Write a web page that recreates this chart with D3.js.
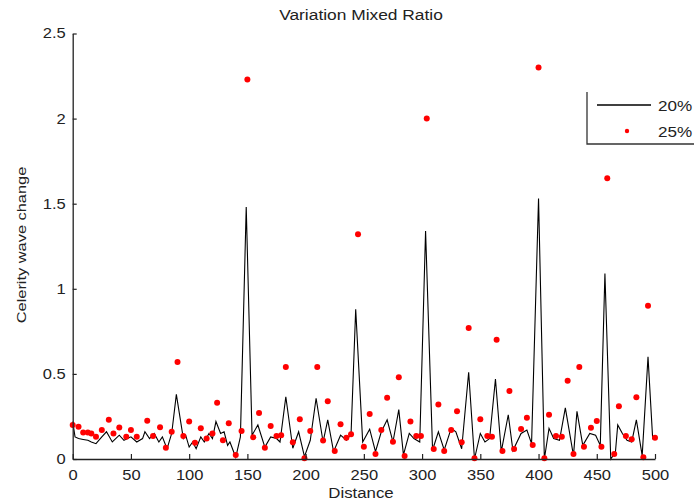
<!DOCTYPE html>
<html>
<head>
<meta charset="utf-8">
<script src="https://cdn.jsdelivr.net/npm/d3@7"></script>
<style>
  html, body { margin: 0; padding: 0; background: #fff; }
  svg { display: block; }
  text { font-family: Arial, "Liberation Sans", sans-serif; fill: #222; }
</style>
</head>
<body>
<svg id="chart" width="694" height="503"></svg>
<script>
// 20% mix: distance / celerity change (solid line)
const lineX = [0, 2, 5, 9, 13, 16, 20, 25, 29, 34, 40, 44, 50, 55, 60, 62, 66, 70, 74, 77,
  81, 85, 89, 95, 97, 100, 103, 106, 110, 113, 117, 120, 123, 127, 130, 133, 135, 140, 144, 149,
  154, 159, 165, 170, 175, 178, 183, 189, 194, 199, 204, 209, 215, 219, 224, 230, 235, 239, 243, 249,
  255, 260, 265, 270, 275, 280, 284, 289, 293, 298, 303, 309, 314, 319, 325, 329, 334, 340, 345, 350,
  354, 358, 363, 368, 374, 378, 385, 390, 394, 400, 405, 409, 413, 418, 423, 430, 433, 438, 444, 449,
  453, 457, 462, 466, 468, 472, 476, 480, 484, 489, 494, 498, 500];
const lineY = [0.22, 0.13, 0.12, 0.115, 0.11, 0.10, 0.09, 0.13, 0.16, 0.10, 0.14, 0.11, 0.13, 0.10, 0.12, 0.16, 0.12, 0.15, 0.10, 0.13,
  0.06, 0.15, 0.38, 0.12, 0.14, 0.07, 0.10, 0.06, 0.13, 0.10, 0.15, 0.12, 0.22, 0.15, 0.16, 0.08, 0.10, 0.01, 0.13, 1.48,
  0.14, 0.20, 0.07, 0.13, 0.12, 0.10, 0.366, 0.063, 0.16, 0.014, 0.11, 0.357, 0.10, 0.23, 0.043, 0.14, 0.11, 0.145, 0.88, 0.10,
  0.175, 0.043, 0.16, 0.23, 0.10, 0.29, 0.024, 0.15, 0.12, 0.10, 1.34, 0.053, 0.16, 0.053, 0.18, 0.16, 0.06, 0.51, 0.00, 0.15,
  0.10, 0.12, 0.47, 0.043, 0.26, 0.05, 0.15, 0.17, 0.09, 1.53, 0.00, 0.18, 0.12, 0.11, 0.30, 0.02, 0.28, 0.08, 0.15, 0.14,
  0.08, 1.09, 0.00, 0.04, 0.20, 0.15, 0.11, 0.10, 0.23, 0.02, 0.60, 0.12, 0.12];

// 25% mix: distance / celerity change (dot markers)
const dotX = [0, 5, 9, 13, 16, 20, 25, 31, 35, 40, 46, 50, 55, 64, 69, 75, 80, 85, 90, 95,
  100, 105, 110, 115, 120, 124, 129, 134, 140, 145, 150, 155, 160, 165, 170, 175, 179, 183, 189, 195,
  199, 204, 210, 215, 219, 225, 230, 235, 239, 245, 250, 255, 260, 265, 270, 275, 280, 285, 290, 295,
  299, 304, 310, 314, 319, 325, 330, 334, 340, 345, 350, 356, 360, 364, 369, 375, 379, 385, 390, 395,
  400, 405, 409, 415, 420, 425, 430, 435, 439, 445, 450, 454, 459, 465, 469, 475, 480, 484, 490, 494, 500];
const dotY = [0.20, 0.19, 0.155, 0.155, 0.15, 0.13, 0.17, 0.23, 0.15, 0.185, 0.13, 0.17, 0.13, 0.225, 0.135, 0.186, 0.066, 0.16, 0.57, 0.135,
  0.22, 0.096, 0.18, 0.12, 0.15, 0.33, 0.11, 0.21, 0.024, 0.165, 2.23, 0.128, 0.27, 0.066, 0.194, 0.135, 0.14, 0.54, 0.098, 0.233,
  0.004, 0.165, 0.54, 0.108, 0.34, 0.047, 0.204, 0.125, 0.145, 1.32, 0.072, 0.265, 0.03, 0.17, 0.36, 0.102, 0.48, 0.018, 0.22, 0.135,
  0.135, 2.0, 0.059, 0.32, 0.047, 0.17, 0.28, 0.098, 0.77, 0.004, 0.233, 0.135, 0.13, 0.70, 0.047, 0.40, 0.059, 0.176, 0.243, 0.082,
  2.30, 0.004, 0.26, 0.135, 0.13, 0.46, 0.03, 0.54, 0.072, 0.184, 0.224, 0.072, 1.65, 0.03, 0.31, 0.135, 0.116, 0.363, 0.01, 0.90, 0.125];

const xTicks = [0, 50, 100, 150, 200, 250, 300, 350, 400, 450, 500];
const yTicks = [0, 0.5, 1, 1.5, 2, 2.5];
const seriesNames = ["20%", "25%"];

const svg = d3.select("#chart");
const x = d3.scaleLinear().domain([0, 500]).range([72.7, 655]);
const y = d3.scaleLinear().domain([0, 2.5]).range([459, 33.5]);

// widen glyphs the way the plotting tool renders its text
function widen(sel, k) {
  sel.each(function () {
    const len = this.getComputedTextLength();
    d3.select(this).attr("textLength", len * k).attr("lengthAdjust", "spacingAndGlyphs");
  });
}

// data line
const linePts = lineX.map((d, i) => [d, lineY[i]]);
svg.append("path")
  .datum(linePts)
  .attr("fill", "none")
  .attr("stroke", "#000")
  .attr("stroke-width", 1.1)
  .attr("stroke-linejoin", "miter")
  .attr("d", d3.line().x(d => x(d[0])).y(d => y(d[1])));

// dot markers
svg.append("g").selectAll("circle")
  .data(dotX.map((d, i) => [d, dotY[i]]))
  .join("circle")
  .attr("cx", d => x(d[0]))
  .attr("cy", d => y(d[1]))
  .attr("r", 3)
  .attr("fill", "#ff0000");

// axes with inward ticks
const gx = svg.append("g")
  .attr("transform", `translate(0,${y(0)})`)
  .call(d3.axisBottom(x).tickValues(xTicks).tickFormat(d => String(d))
    .tickSizeInner(-5).tickSizeOuter(0).tickPadding(11));
const gy = svg.append("g")
  .attr("transform", `translate(${x(0)},0)`)
  .call(d3.axisLeft(y).tickValues(yTicks).tickFormat(d => String(d))
    .tickSizeInner(-4).tickSizeOuter(0).tickPadding(7));

[gx, gy].forEach(g => {
  g.select(".domain").attr("stroke", "#222").attr("stroke-width", 1.3);
  g.selectAll(".tick line").attr("stroke", "#222").attr("stroke-width", 1.2);
  g.selectAll(".tick text")
    .attr("fill", "#222")
    .style("font-family", "Arial, 'Liberation Sans', sans-serif")
    .style("font-size", "14px");
});
widen(gx.selectAll(".tick text"), 1.18);
widen(gy.selectAll(".tick text"), 1.18);

// title and axis labels
const title = svg.append("text")
  .attr("x", 361).attr("y", 20)
  .attr("text-anchor", "middle")
  .style("font-size", "14px")
  .attr("fill", "#333")
  .text("Variation Mixed Ratio");
widen(title, 1.24);

const xl = svg.append("text")
  .attr("x", 361).attr("y", 498)
  .attr("text-anchor", "middle")
  .style("font-size", "14px")
  .text("Distance");
widen(xl, 1.2);

const yl = svg.append("text")
  .attr("transform", "translate(26,245) rotate(-90)")
  .attr("text-anchor", "middle")
  .style("font-size", "13px")
  .text("Celerity wave change");
widen(yl, 1.26);

// legend
const lg = svg.append("g");
lg.append("path")
  .attr("d", "M587,92V144H694")
  .attr("fill", "none")
  .attr("stroke", "#333")
  .attr("stroke-width", 1.3);
lg.append("line")
  .attr("x1", 597).attr("x2", 651).attr("y1", 105).attr("y2", 105)
  .attr("stroke", "#000").attr("stroke-width", 1.3);
lg.append("circle")
  .attr("cx", 627).attr("cy", 131).attr("r", 2.2)
  .attr("fill", "#ff0000");
const lt = lg.selectAll("text.lab")
  .data(seriesNames)
  .join("text")
  .attr("class", "lab")
  .attr("x", 658)
  .attr("y", (d, i) => 111 + i * 25.5)
  .style("font-size", "14px")
  .text(d => d);
widen(lt, 1.22);
</script>
</body>
</html>
